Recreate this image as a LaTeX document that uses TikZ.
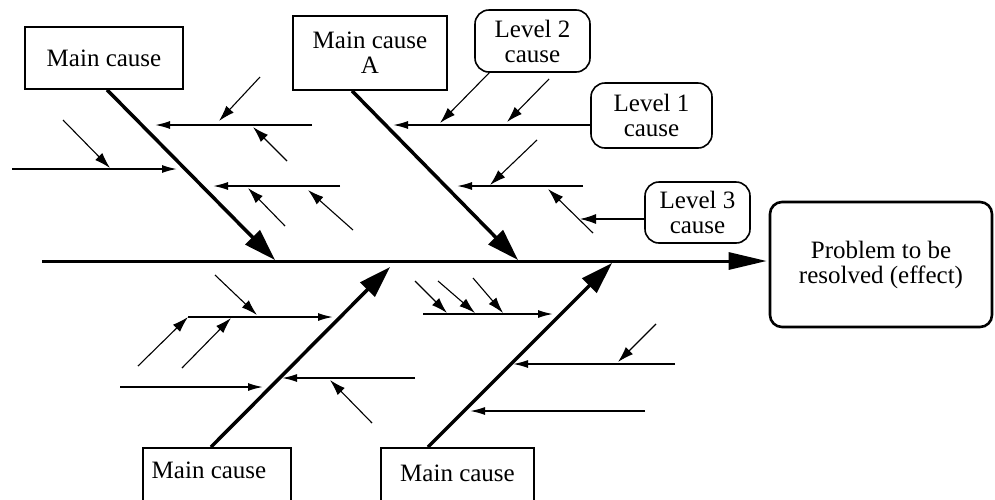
\documentclass[tikz,border=0pt]{standalone}
\usepackage{fontspec}
\setmainfont{Liberation Serif}
\usetikzlibrary{arrows.meta}
\begin{document}
\begin{tikzpicture}[x=1pt,y=-1pt,
  box/.style={draw, line width=1.6pt, inner sep=0pt, font=\fontsize{25}{25}\selectfont, align=center},
  rbox/.style={box, rounded corners=14pt},
  spinearrow/.style={line width=3pt, -{Triangle[length=38pt,width=17pt]}},
  bonearrow/.style={line width=3.5pt, -{Triangle[length=32pt,width=20pt]}},
  subarrow/.style={line width=1.6pt, -{Latex[length=15pt,width=8pt]}},
  subsubarrow/.style={line width=1.1pt, -{Latex[length=16pt,width=10pt]}},
]
\useasboundingbox (0,0) rectangle (995,499);
\clip (0,0) rectangle (995,499);

% boxes
\node[box, minimum width=158, minimum height=62] (mcTL) at (104,58) {Main cause};
\node[box, minimum width=154, minimum height=74] (mcA) at (370,53) {Main cause\\A};
\node[rbox, minimum width=115, minimum height=62] (lv2) at (532.5,41) {Level 2\\cause};
\node[rbox, minimum width=121, minimum height=65] (lv1) at (651.5,115.5) {Level 1\\cause};
\node[rbox, minimum width=105, minimum height=61] (lv3) at (697.5,212.5) {Level 3\\cause};
\node[box, line width=2.6pt, rounded corners=12pt, minimum width=222, minimum height=125] (eff) at (881,264.5) {Problem to be\\resolved (effect)};
\node[box, anchor=north, minimum width=148, text height=31, text depth=40] (mcBL) at (217,447) {Main cause\hspace*{16pt}};
\node[box, anchor=north, minimum width=153, text height=34, text depth=40] (mcBR) at (457.5,447) {Main cause};

% spine
\coordinate (spS) at (42,261);
\draw[spinearrow, shorten >=2pt] (spS) -- (eff.west |- spS);

% main bones
\coordinate (b1e) at (275,260);
\coordinate (bAe) at (518,260);
\coordinate (bBLe) at (390,267);
\coordinate (bBRe) at (612,263);
\draw[bonearrow] ([xshift=3pt]mcTL.south) -- (b1e);
\draw[bonearrow] ([xshift=-18pt]mcA.south) -- (bAe);
\draw[bonearrow] ([xshift=-6pt]mcBL.north) -- (bBLe);
\draw[bonearrow] ([xshift=-29.5pt]mcBR.north) -- (bBRe);

% ---- top-left bone causes
\coordinate (t1s) at (312,125); \coordinate (t1e) at (155,125);
\coordinate (t2s) at (12,169);  \coordinate (t2e) at (177,169);
\coordinate (t3s) at (340,186); \coordinate (t3e) at (213,186);
\draw[subarrow] (t1s) -- (t1e);
\draw[subarrow] (t2s) -- (t2e);
\draw[subarrow] (t3s) -- (t3e);
\coordinate (u1s) at (260,77);  \coordinate (u1e) at (219,121);
\coordinate (u2s) at (287,161); \coordinate (u2e) at (253,127);
\coordinate (u3s) at (63,120);  \coordinate (u3e) at (110,168);
\coordinate (u4s) at (285,226); \coordinate (u4e) at (248,188);
\coordinate (u5s) at (353,230); \coordinate (u5e) at (308,190);
\draw[subsubarrow] (u1s) -- (u1e);
\draw[subsubarrow] (u2s) -- (u2e);
\draw[subsubarrow] (u3s) -- (u3e);
\draw[subsubarrow] (u4s) -- (u4e);
\draw[subsubarrow] (u5s) -- (u5e);

% ---- bone A causes
\coordinate (a1e) at (393,125);
\coordinate (a2s) at (583,186); \coordinate (a2e) at (457,186);
\draw[subarrow] ([yshift=-9.5pt]lv1.west) -- (a1e);
\draw[subarrow] (a2s) -- (a2e);
\coordinate (v1e) at (440,123);
\coordinate (v2s) at (549,79);  \coordinate (v2e) at (507,122);
\coordinate (v3s) at (537,140); \coordinate (v3e) at (490,185);
\coordinate (v4s) at (593,233); \coordinate (v4e) at (548,189);
\coordinate (v5e) at (580,219);
\draw[subsubarrow] ([xshift=15pt]lv2.south west) -- (v1e);
\draw[subsubarrow] (v2s) -- (v2e);
\draw[subsubarrow] (v3s) -- (v3e);
\draw[subsubarrow] (v4s) -- (v4e);
\draw[subsubarrow] ([yshift=-6.5pt]lv3.west) -- (v5e);

% ---- bottom-left bone causes
\coordinate (c1s) at (188,317); \coordinate (c1e) at (333,317);
\coordinate (c2s) at (120,387); \coordinate (c2e) at (263,387);
\coordinate (c3s) at (415,378); \coordinate (c3e) at (282,378);
\draw[subarrow] (c1s) -- (c1e);
\draw[subarrow] (c2s) -- (c2e);
\draw[subarrow] (c3s) -- (c3e);
\coordinate (w1s) at (215,275); \coordinate (w1e) at (257,315);
\coordinate (w2s) at (138,366);
\coordinate (w3s) at (182,368); \coordinate (w3e) at (231,318);
\coordinate (w4s) at (372,423); \coordinate (w4e) at (330,380);
\draw[subsubarrow] (w1s) -- (w1e);
\draw[subsubarrow] (w2s) -- (c1s);
\draw[subsubarrow] (w3s) -- (w3e);
\draw[subsubarrow] (w4s) -- (w4e);

% ---- bottom-right bone causes
\coordinate (d1s) at (423,314); \coordinate (d1e) at (553,314);
\coordinate (d2s) at (675,364); \coordinate (d2e) at (513,364);
\coordinate (d3s) at (645,411); \coordinate (d3e) at (470,411);
\draw[subarrow] (d1s) -- (d1e);
\draw[subarrow] (d2s) -- (d2e);
\draw[subarrow] (d3s) -- (d3e);
\coordinate (x1s) at (415,281); \coordinate (x1e) at (447,313);
\coordinate (x2s) at (438,281); \coordinate (x2e) at (475,313);
\coordinate (x3s) at (473,278); \coordinate (x3e) at (503,313);
\coordinate (x4s) at (656,324); \coordinate (x4e) at (618,362);
\draw[subsubarrow] (x1s) -- (x1e);
\draw[subsubarrow] (x2s) -- (x2e);
\draw[subsubarrow] (x3s) -- (x3e);
\draw[subsubarrow] (x4s) -- (x4e);
\end{tikzpicture}
\end{document}
